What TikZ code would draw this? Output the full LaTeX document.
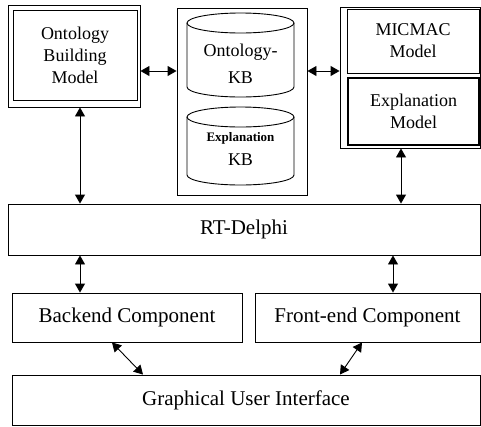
\documentclass[tikz,border=0pt]{standalone}
\usepackage{fontspec}
\setmainfont{Liberation Serif}
\usetikzlibrary{arrows.meta}
\tikzset{
  box/.style={draw,line width=0.9pt,inner sep=2pt,align=center,font=\fontsize{18}{22}\selectfont},
  bigbox/.style={box,font=\fontsize{21}{24}\selectfont},
  store/.style={inner sep=0pt,outer sep=0pt},
  storetext/.style={align=center,inner sep=0pt,font=\fontsize{18}{27}\selectfont},
  link/.style={{Triangle[length=9pt,width=10pt]}-{Triangle[length=9pt,width=10pt]},line width=0.9pt},
}
\begin{document}
\begin{tikzpicture}[x=1pt,y=-1pt]
\useasboundingbox (0,0) rectangle (481,426);
% top row
\node[box,minimum width=132pt,minimum height=102pt] (obmf) at (74,56) {};
\node[box,minimum width=124pt,minimum height=90pt] (obm) at (75,55) {Ontology\\Building\\Model};
\node[box,minimum width=130pt,minimum height=187pt] (kb) at (242,101.5) {};
\node[store,minimum width=107pt,minimum height=84pt] (okb) at (240.5,55) {};
\node[store,minimum width=107pt,minimum height=78pt] (ekb) at (240.5,146) {};
\foreach \c in {okb,ekb}{
  \draw[line width=0.9pt] ([yshift=-10pt]\c.north) ellipse [x radius=53.5pt,y radius=10pt];
  \draw[line width=0.9pt] ([yshift=-10pt]\c.north west) -- ([yshift=10pt]\c.south west)
    arc[start angle=180,end angle=360,x radius=53.5pt,y radius=10pt] -- ([yshift=-10pt]\c.north east);
}
\node[storetext] (okbt) at (240.5,64) {Ontology-\\KB};
\node[storetext,font=\fontsize{18}{24}\selectfont] (ekbt) at (240.5,149) {{\fontsize{13}{15}\selectfont\bfseries Explanation}\\KB};
\node[box,minimum width=140pt,minimum height=141pt] (mic) at (410,77.5) {};
\node[box,minimum width=132pt,minimum height=64pt] (micmac) at (413,41) {MICMAC\\Model};
\node[box,line width=1.3pt,minimum width=131pt,minimum height=67pt] (expl) at (413.5,111.5) {Explanation\\Model};
% lower rows
\node[bigbox,minimum width=472pt,minimum height=51pt] (rt) at (244,229.5) {RT-Delphi};
\node[bigbox,minimum width=230pt,minimum height=49pt] (be) at (127,317.5) {Backend Component};
\node[bigbox,minimum width=225pt,minimum height=49pt] (fe) at (367.5,317.5) {Front-end Component};
\node[bigbox,minimum width=468pt,minimum height=50pt] (gui) at (246,400) {Graphical User Interface};
% connectors
\coordinate (lcol) at (80,0);
\coordinate (rcol) at (401,0);
\coordinate (rcolb) at (393,0);
\coordinate (row) at (0,71);
\draw[link] (obmf.east |- row) -- (kb.west |- row);
\draw[link] (kb.east |- row) -- (mic.west |- row);
\draw[link] (obmf.south -| lcol) -- (rt.north -| lcol);
\draw[link] (mic.south -| rcol) -- (rt.north -| rcol);
\draw[link] (rt.south -| lcol) -- (be.north -| lcol);
\draw[link] (rt.south -| rcolb) -- (fe.north -| rcolb);
\draw[link] ([xshift=-15pt]be.south) -- ([xshift=-103pt]gui.north);
\draw[link] ([xshift=-5.5pt]fe.south) -- ([xshift=94pt]gui.north);
\end{tikzpicture}
\end{document}
